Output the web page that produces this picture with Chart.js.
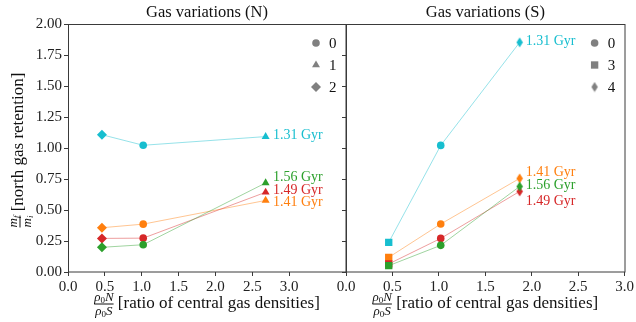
<!DOCTYPE html>
<html>
<head>
<meta charset="utf-8">
<script src="https://cdn.jsdelivr.net/npm/chart.js@4.4.0/dist/chart.umd.min.js"></script>
<style>
html, body { margin: 0; padding: 0; background: #fff; }
#wrap { position: relative; width: 636px; height: 322px; }
#wrap canvas { position: absolute; left: 0; top: 0; }
</style>
</head>
<body>
<div id="wrap">
  <canvas id="north" width="636" height="322"></canvas>
  <canvas id="south" width="636" height="322"></canvas>
</div>
<script>
// ratio of central gas densities for each run
const xNorth = [0.46, 1.02, 2.68];
const xSouth = [0.46, 1.02, 1.87];

// north gas retention, one array per snapshot time
const north131 = [1.107, 1.022, 1.092];
const north141 = [0.357, 0.386, 0.577];
const north149 = [0.271, 0.273, 0.643];
const north156 = [0.199, 0.220, 0.718];

const south131 = [0.239, 1.021, 1.852];
const south141 = [0.118, 0.387, 0.755];
const south149 = [0.065, 0.271, 0.650];
const south156 = [0.051, 0.215, 0.690];

const runTimes = ['1.31 Gyr', '1.41 Gyr', '1.49 Gyr', '1.56 Gyr'];
const runColors = ['#17becf', '#ff7f0e', '#d62728', '#2ca02c'];
const northLabelY = [1.10, 0.56, 0.66, 0.76];
const southLabelY = [1.86, 0.80, 0.57, 0.70];

const northMarkers = ['rectRot', 'circle', 'triangle'];
const southMarkers = ['rect', 'circle', 'thin'];
const northLegend = ['0', '1', '2'];
const southLegend = ['0', '3', '4'];

const yTicks = [0, 0.25, 0.5, 0.75, 1.0, 1.25, 1.5, 1.75, 2.0];
const xTicks = [0, 0.5, 1.0, 1.5, 2.0, 2.5, 3.0];

const SERIF = "'Liberation Serif'";
const radii = { circle: 3.8, triangle: 4.6, rectRot: 5, rect: 5.2 };

function thinDiamond(color) {
  const c = document.createElement('canvas');
  c.width = 8; c.height = 11;
  const g = c.getContext('2d');
  g.fillStyle = color;
  g.beginPath();
  g.moveTo(4, 0.5); g.lineTo(7.2, 5.5); g.lineTo(4, 10.5); g.lineTo(0.8, 5.5);
  g.closePath(); g.fill();
  return c;
}

function alpha(hex, a) {
  const n = parseInt(hex.slice(1), 16);
  return `rgba(${n >> 16}, ${(n >> 8) & 255}, ${n & 255}, ${a})`;
}

function marker(ctx, style, x, y, color) {
  ctx.fillStyle = color;
  if (style === 'thin') {
    const img = thinDiamond(color);
    ctx.drawImage(img, x - img.width / 2, y - img.height / 2);
    return;
  }
  const r = radii[style];
  ctx.beginPath();
  if (style === 'circle') {
    ctx.arc(x, y, r, 0, Math.PI * 2);
  } else if (style === 'triangle') {
    for (let k = 0; k < 3; k++) {
      const a = k * 2 * Math.PI / 3;
      ctx.lineTo(x + Math.sin(a) * r, y - Math.cos(a) * r);
    }
  } else if (style === 'rectRot') {
    ctx.moveTo(x, y - r); ctx.lineTo(x + r, y); ctx.lineTo(x, y + r); ctx.lineTo(x - r, y);
  } else {
    const s = r * Math.SQRT1_2;
    ctx.rect(x - s, y - s, 2 * s, 2 * s);
  }
  ctx.closePath();
  ctx.fill();
}

function makeDatasets(xs, series, styles) {
  return series.map((vals, i) => ({
    label: runTimes[i],
    data: xs.map((x, j) => ({ x: x, y: vals[j] })),
    showLine: true,
    borderColor: alpha(runColors[i], 0.45),
    borderWidth: 1,
    pointBackgroundColor: runColors[i],
    pointBorderWidth: 0,
    pointStyle: styles.map(s => s === 'thin' ? thinDiamond(runColors[i]) : s),
    pointRadius: styles.map(s => radii[s] || 4),
    order: 3 - i
  }));
}

// draws a run of text pieces, each part is [text, font, dy]
function drawParts(ctx, parts, x, y) {
  let cx = x;
  parts.forEach(p => {
    ctx.font = p[1];
    ctx.fillText(p[0], cx, y + p[2]);
    cx += ctx.measureText(p[0]).width;
  });
  return cx - x;
}
function partsWidth(ctx, parts) {
  let w = 0;
  parts.forEach(p => { ctx.font = p[1]; w += ctx.measureText(p[0]).width; });
  return w;
}
function drawFrac(ctx, x, y, num, den) {
  const wn = partsWidth(ctx, num), wd = partsWidth(ctx, den);
  const w = Math.max(wn, wd);
  ctx.textBaseline = 'alphabetic';
  ctx.textAlign = 'left';
  drawParts(ctx, num, x + (w - wn) / 2, y - 3);
  drawParts(ctx, den, x + (w - wd) / 2, y + 11);
  ctx.fillRect(x, y - 0.5, w, 1);
  return w;
}

const rhoNum = [['ρ', 'italic 13px ' + SERIF, 0], ['0', '9px ' + SERIF, 2], ['N', 'italic 13px ' + SERIF, 0]];
const rhoDen = [['ρ', 'italic 13px ' + SERIF, 0], ['0', '9px ' + SERIF, 2], ['S', 'italic 13px ' + SERIF, 0]];

const panelPlugin = {
  id: 'panel',
  afterDraw(chart) {
    const o = chart.options.plugins.panel;
    const ctx = chart.ctx;
    const a = chart.chartArea;
    const xs = chart.scales.x, ys = chart.scales.y;
    ctx.save();
    // frame
    ctx.strokeStyle = '#3a3a3a';
    ctx.lineWidth = 1;
    ctx.strokeRect(Math.round(a.left) + 0.5, Math.round(a.top) + 0.5,
      Math.round(a.right - a.left) - 1 + 0.5, Math.round(a.bottom - a.top) - 0.5);
    // title
    ctx.fillStyle = '#111';
    ctx.font = '16.5px ' + SERIF;
    ctx.textAlign = 'center';
    ctx.textBaseline = 'middle';
    ctx.fillText(o.title, (a.left + a.right) / 2, 13);
    // time labels
    ctx.font = '14px ' + SERIF;
    ctx.textAlign = 'left';
    o.labelY.forEach((v, i) => {
      ctx.fillStyle = runColors[i];
      ctx.fillText(runTimes[i], xs.getPixelForValue(o.labelX), ys.getPixelForValue(v));
    });
    // legend
    o.legend.forEach((t, k) => {
      const y = a.top + 19 + k * 22;
      marker(ctx, o.markers[k], a.right - 30, y, '#808080');
      ctx.fillStyle = '#111';
      ctx.font = '15px ' + SERIF;
      ctx.textBaseline = 'middle';
      ctx.fillText(t, a.right - 17, y + 1);
    });
    // x axis title
    ctx.fillStyle = '#111';
    ctx.font = '17px ' + SERIF;
    const tail = ' [ratio of central gas densities]';
    const wt = ctx.measureText(tail).width;
    const wf = Math.max(partsWidth(ctx, rhoNum), partsWidth(ctx, rhoDen));
    const x0 = (a.left + a.right) / 2 - (wf + wt) / 2;
    drawFrac(ctx, x0, 304, rhoNum, rhoDen);
    ctx.font = '17px ' + SERIF;
    ctx.textBaseline = 'middle';
    ctx.fillText(tail, x0 + wf, 304);
    // y axis title
    if (o.yTitle) {
      ctx.translate(19, 150);
      ctx.rotate(-Math.PI / 2);
      const num = [['m', 'italic 13px ' + SERIF, 0], ['f', 'italic 9px ' + SERIF, 2]];
      const den = [['m', 'italic 13px ' + SERIF, 0], ['i', 'italic 9px ' + SERIF, 2]];
      ctx.font = '17px ' + SERIF;
      const ytail = ' [north gas retention]';
      const wy = ctx.measureText(ytail).width;
      const wfy = Math.max(partsWidth(ctx, num), partsWidth(ctx, den));
      const s = -(wfy + wy) / 2;
      ctx.fillStyle = '#111';
      drawFrac(ctx, s, 1, num, den);
      ctx.font = '17px ' + SERIF;
      ctx.textBaseline = 'middle';
      ctx.fillText(ytail, s + wfy, 0);
    }
    ctx.restore();
  }
};

function makeChart(id, xs, series, styles, opts) {
  return new Chart(document.getElementById(id), {
    type: 'scatter',
    data: { datasets: makeDatasets(xs, series, styles) },
    options: {
      responsive: false,
      animation: false,
      layout: { padding: opts.padding },
      plugins: {
        legend: { display: false },
        tooltip: { enabled: false },
        panel: opts.panel
      },
      scales: {
        x: {
          type: 'linear', min: 0, max: opts.xMax,
          afterBuildTicks: s => { s.ticks = xTicks.map(v => ({ value: v })); },
          afterFit: s => { s.height = 50; },
          grid: { drawOnChartArea: false, drawTicks: true, tickLength: 4, color: '#3a3a3a' },
          border: { display: false },
          ticks: { font: { family: SERIF, size: 15 }, color: '#222', padding: 2,
            maxRotation: 0, callback: v => v.toFixed(1) }
        },
        y: {
          type: 'linear', min: 0, max: 2,
          afterBuildTicks: s => { s.ticks = yTicks.map(v => ({ value: v })); },
          afterFit: s => { s.width = opts.yWidth; },
          grid: { drawOnChartArea: false, drawTicks: true, tickLength: 4, color: '#3a3a3a' },
          border: { display: false },
          ticks: { display: opts.yLabels, font: { family: SERIF, size: 15 }, color: '#222',
            padding: 2, callback: v => v.toFixed(2) }
        }
      }
    },
    plugins: [panelPlugin]
  });
}

makeChart('north', xNorth, [north131, north141, north149, north156], northMarkers, {
  padding: { left: 0, top: 24, right: 290, bottom: 0 },
  xMax: 3.77, yWidth: 68, yLabels: true,
  panel: { title: 'Gas variations (N)', labelX: 2.78, labelY: northLabelY,
    legend: northLegend, markers: ['circle', 'triangle', 'rectRot'], yTitle: true }
});

makeChart('south', xSouth, [south131, south141, south149, south156], southMarkers, {
  padding: { left: 336, top: 24, right: 10, bottom: 0 },
  xMax: 3.0, yWidth: 10, yLabels: false,
  panel: { title: 'Gas variations (S)', labelX: 1.935, labelY: southLabelY,
    legend: southLegend, markers: ['circle', 'rect', 'thin'], yTitle: false }
});
</script>
</body>
</html>
